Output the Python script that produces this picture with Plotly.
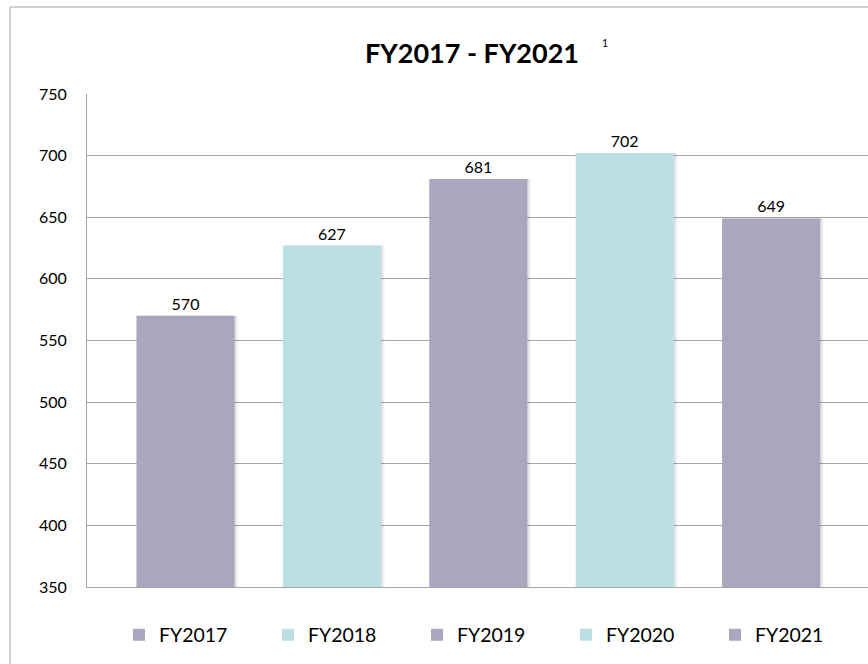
import plotly.graph_objects as go

categories = ["FY2017", "FY2018", "FY2019", "FY2020", "FY2021"]
values = [570, 627, 681, 702, 649]
bar_colors = ["#A9A6BD", "#BBE0E3", "#A9A6BD", "#BBE0E3", "#A9A6BD"]
y_ticks = [350, 400, 450, 500, 550, 600, 650, 700, 750]
title_text = "FY2017 - FY2021"
footnote = "1"

FONT = "Lato"
W, H = 868, 664
# plot area in pixels
PL, PT, PB = 87, 94, 587
ML, MT, MB, MR = PL, PT, H - PB, 0
PW = W - ML - MR
PH = H - MT - MB
CAT_PX = 146.4       # pixels per category
FIRST_C = 185.5      # pixel centre of first category
BAR_W = 0.67

fig = go.Figure()

# soft shadow to the right of each bar
for shift, alpha in [(3.5, 0.05), (1.8, 0.08)]:
    fig.add_trace(go.Bar(
        x=categories, y=values, showlegend=False, hoverinfo="skip",
        marker=dict(color=f"rgba(0,0,0,{alpha})", line=dict(width=0)),
        width=BAR_W, offset=-BAR_W / 2 + shift / CAT_PX,
    ))

for cat, val, col in zip(categories, values, bar_colors):
    fig.add_trace(go.Bar(
        x=[cat], y=[val], name=cat,
        marker=dict(color=col, line=dict(width=0)),
        width=BAR_W,
        text=[str(val)], textposition="outside",
        textfont=dict(family=FONT, size=16, color="#000000"),
        cliponaxis=False,
    ))

def px_x(p):
    return (p - PL) / PW

def px_y(p):
    return (PB - p) / PH

fig.update_layout(
    width=W, height=H,
    margin=dict(l=ML, r=MR, t=MT, b=MB),
    paper_bgcolor="#FFFFFF", plot_bgcolor="#FFFFFF",
    barmode="overlay",
    font=dict(family=FONT, color="#000000"),
    title=dict(text=title_text, x=px_x(472), xref="paper", xanchor="center",
               y=1 - 54 / H, yref="container", yanchor="middle",
               font=dict(family=FONT, size=27, weight="bold", color="#000000")),
    showlegend=True,
    legend=dict(orientation="h", x=px_x(119), xanchor="left", y=px_y(635), yanchor="middle",
                font=dict(family=FONT, size=19.5, color="#000000"),
                entrywidth=104, entrywidthmode="pixels", traceorder="normal",
                bgcolor="rgba(0,0,0,0)"),
    xaxis=dict(categoryorder="array", categoryarray=categories,
               range=[(PL - FIRST_C) / CAT_PX, (W - FIRST_C) / CAT_PX],
               showticklabels=False, showgrid=False, zeroline=False,
               showline=True, linecolor="#A6A6A6", linewidth=1, ticks=""),
    yaxis=dict(range=[350, 750], tickvals=y_ticks, showgrid=True,
               gridcolor="#A6A6A6", gridwidth=1, zeroline=False,
               showline=True, linecolor="#A6A6A6", linewidth=1, ticks="",
               ticklabelstandoff=16,
               tickfont=dict(family=FONT, size=16, color="#000000")),
    shapes=[dict(type="rect", xref="paper", yref="paper",
                 x0=px_x(10), x1=1.1, y0=-0.3, y1=px_y(7),
                 line=dict(color="#A6A6A6", width=1), fillcolor="rgba(0,0,0,0)",
                 layer="below")],
    annotations=[dict(text=footnote, xref="paper", yref="paper",
                      x=px_x(605), y=px_y(43), showarrow=False,
                      xanchor="center", yanchor="middle",
                      font=dict(family=FONT, size=10.5, color="#000000"))],
)

fig.write_html("out.html", config={"displayModeBar": False},
               post_script="document.body.style.margin='0';")
